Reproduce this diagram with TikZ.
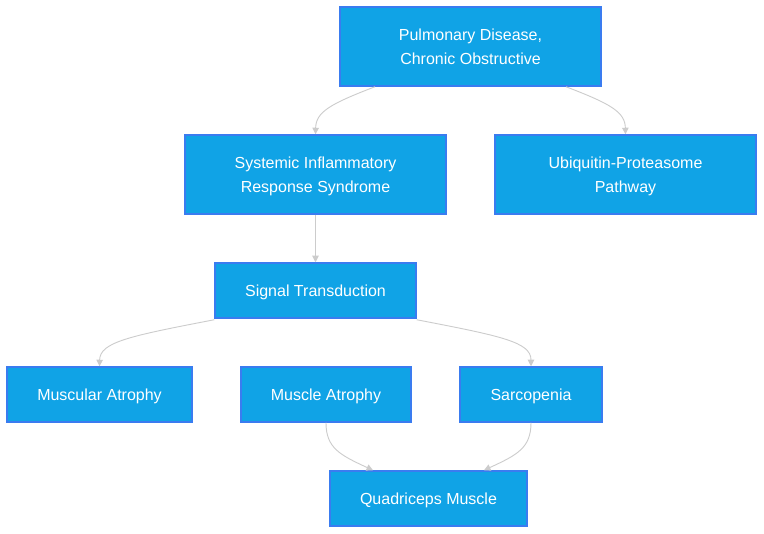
\documentclass[tikz,border=0pt]{standalone}
\usepackage{fontspec}
\setmainfont{Liberation Sans}
\usetikzlibrary{arrows.meta}
\definecolor{boxfill}{HTML}{10A3E6}
\definecolor{boxline}{HTML}{3A7CF0}
\definecolor{edgecol}{HTML}{CCCCCC}
\begin{document}
\begin{tikzpicture}[x=1pt,y=-1pt,
  box/.style={draw=boxline,fill=boxfill,line width=1.5pt,inner sep=0pt,
    text=white,align=center,text depth=0pt,font=\fontsize{16pt}{24pt}\selectfont},
  edge/.style={draw=edgecol,line width=0.9pt,-{Triangle[length=6.5pt,width=6.5pt]}}]
\useasboundingbox (0,0) rectangle (764,534);
\fill[white] (0,0) rectangle (764,534);
\node[box,minimum width=261pt,minimum height=79pt] (p) at (470.5,46.5) {Pulmonary Disease,\\ Chronic Obstructive};
\node[box,minimum width=261pt,minimum height=79pt] (s) at (315.5,174.5) {Systemic Inflammatory\\ Response Syndrome};
\node[box,minimum width=261pt,minimum height=79pt] (u) at (625.5,174.5) {Ubiquitin-Proteasome\\Pathway};
\node[box,minimum width=201pt,minimum height=55pt] (g) at (315.5,290.5) {Signal Transduction};
\node[box,minimum width=185pt,minimum height=55pt] (m1) at (99.5,394.5) {Muscular Atrophy};
\node[box,minimum width=170pt,minimum height=55pt] (m2) at (326,394.5) {Muscle Atrophy};
\node[box,minimum width=142pt,minimum height=55pt] (sc) at (531,394.5) {Sarcopenia};
\node[box,minimum width=197pt,minimum height=55pt] (q) at (428.5,498.5) {Quadriceps Muscle};

\draw[edge] ([xshift=-95.5pt]p.south) .. controls (330,104) and (316,112) .. (s.north);
\draw[edge] ([xshift=95.5pt]p.south) .. controls (611,104) and (625,112) .. (u.north);
\draw[edge] (s.south) -- (g.north);
\draw[edge] ([yshift=-1pt]g.south west) .. controls (130,336) and (100,342) .. (m1.north);
\draw[edge] ([yshift=-1pt]g.south east) .. controls (501,336) and (531,342) .. (sc.north);
\draw[edge] (m2.south) .. controls (326,448) and (340,455) .. ([xshift=-55.5pt]q.north);
\draw[edge] (sc.south) .. controls (531,448) and (517,455) .. ([xshift=55.5pt]q.north);
\end{tikzpicture}
\end{document}
